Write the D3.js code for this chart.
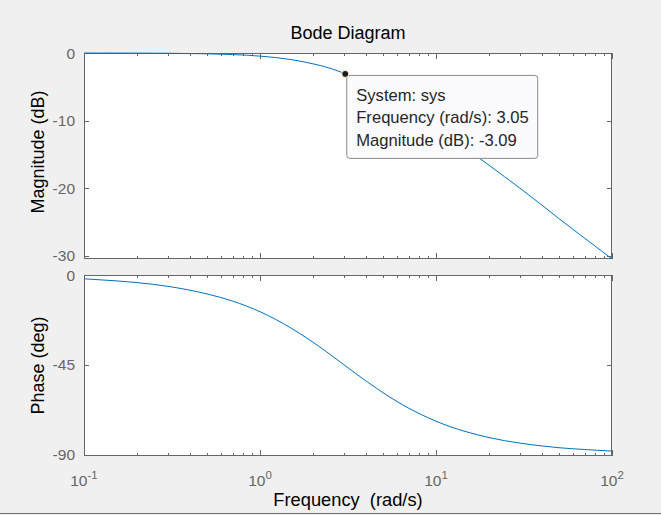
<!DOCTYPE html>
<html>
<head>
<meta charset="utf-8">
<script src="https://cdn.jsdelivr.net/npm/d3@7"></script>
<style>
  html, body { margin: 0; padding: 0; background: #F0F0F0; }
  svg { display: block; font-family: "Liberation Sans", Arial, sans-serif; }
</style>
</head>
<body>
<svg id="chart" width="661" height="515"></svg>
<script>
// ---- data ----
const freq = [0.1, 0.15, 0.2, 0.3, 0.5, 0.7, 1, 1.5, 2, 2.5, 3, 3.5, 4, 5, 6, 7, 8, 10, 12, 15, 20, 30, 40, 50, 70, 100];
const magDb = [-0.005, -0.011, -0.02, -0.04, -0.12, -0.23, -0.46, -0.97, -1.6, -2.25, -3.0, -3.7, -4.4, -5.8, -6.99, -8.3, -9.1, -10.9, -12.3, -14.2, -16.6, -20.0, -22.5, -24.5, -27.4, -30.46];
const phaseDeg = [-1.9, -2.9, -3.8, -5.7, -9.5, -13.1, -18.4, -26.6, -33.7, -39.8, -45.0, -49.4, -53.1, -59.0, -63.4, -66.8, -69.4, -73.3, -76.0, -78.7, -81.5, -84.3, -85.7, -86.6, -87.5, -88.3];
const xTicks = [0.1, 1, 10, 100];
const xTickExp = ["-1", "0", "1", "2"];
const magTicks = [0, -10, -20, -30];
const phaseTicks = [0, -45, -90];
const tipFreq = 3.05, tipMag = -3.09;
const tipLines = ["System: sys", "Frequency (rad/s): 3.05", "Magnitude (dB): -3.09"];

// ---- layout ----
const svg = d3.select("#chart");
const L = 84, R = 612;
const magTop = 53, magBot = 259, phTop = 275, phBot = 456;
const axisCol = "#666666", tickTxt = "#666666", lineCol = "#0072BD";

const x = d3.scaleLog().domain([0.1, 100]).range([L, R]);
const yMag = d3.scaleLinear().domain([-30.47, 0]).range([magBot, magTop]);
const yPh = d3.scaleLinear().domain([-90.75, 0]).range([phBot, phTop]);

// minor tick values
const minor = [];
[0.1, 1, 10].forEach(d => { for (let k = 2; k <= 9; k++) minor.push(d * k); });

function panel(y, top, bot, yTickVals, data, clipId) {
  const g = svg.append("g");
  g.append("rect").attr("x", L).attr("y", top).attr("width", R - L).attr("height", bot - top)
    .attr("fill", "#ffffff");
  g.append("clipPath").attr("id", clipId).append("rect")
    .attr("x", L - 1).attr("y", top - 1).attr("width", R - L + 2).attr("height", bot - top + 2);

  // ticks (inward, all four sides)
  const tk = g.append("g").attr("stroke", axisCol).attr("stroke-width", 1);
  xTicks.forEach(v => {
    const px = Math.round(x(v)) + 0.5;
    tk.append("line").attr("x1", px).attr("x2", px).attr("y1", bot).attr("y2", bot - 6);
    tk.append("line").attr("x1", px).attr("x2", px).attr("y1", top).attr("y2", top + 6);
  });
  minor.forEach(v => {
    const px = Math.round(x(v)) + 0.5;
    tk.append("line").attr("x1", px).attr("x2", px).attr("y1", bot).attr("y2", bot - 3);
    tk.append("line").attr("x1", px).attr("x2", px).attr("y1", top).attr("y2", top + 3);
  });
  yTickVals.forEach(v => {
    const py = Math.round(y(v)) + 0.5;
    tk.append("line").attr("x1", L).attr("x2", L + 5).attr("y1", py).attr("y2", py);
    tk.append("line").attr("x1", R).attr("x2", R - 5).attr("y1", py).attr("y2", py);
  });
  g.append("rect").attr("x", L + 0.5).attr("y", top + 0.5).attr("width", R - L - 1).attr("height", bot - top - 1)
    .attr("fill", "none").attr("stroke", axisCol).attr("stroke-width", 1);

  const line = d3.line().x((d, i) => x(freq[i])).y(d => y(d)).curve(d3.curveMonotoneX);
  g.append("path").datum(data).attr("d", line).attr("fill", "none")
    .attr("stroke", lineCol).attr("stroke-width", 1).attr("clip-path", `url(#${clipId})`);

  // y tick labels
  g.append("g").selectAll("text").data(yTickVals).join("text")
    .attr("x", 75).attr("y", d => y(d)).attr("dy", "0.36em")
    .attr("text-anchor", "end").attr("font-size", 15.5).attr("fill", tickTxt)
    .text(d => d === 0 ? "0" : "-" + Math.abs(d));
  return g;
}

panel(yMag, magTop, magBot, magTicks, magDb, "clipMag");
panel(yPh, phTop, phBot, phaseTicks, phaseDeg, "clipPh");

// x tick labels (bottom panel only)
const xl = svg.append("g");
xTicks.forEach((v, i) => {
  const t = xl.append("text").attr("x", x(v)).attr("y", 486).attr("text-anchor", "middle")
    .attr("fill", tickTxt).attr("font-size", 15.5);
  t.append("tspan").text("10");
  t.append("tspan").attr("font-size", 11.5).attr("dy", -7).text(xTickExp[i]);
});

// title and labels
svg.append("text").attr("x", (L + R) / 2).attr("y", 39).attr("text-anchor", "middle")
  .attr("font-size", 18).attr("fill", "#000").text("Bode Diagram");
svg.append("text").attr("x", (L + R) / 2).attr("y", 506).attr("text-anchor", "middle")
  .attr("font-size", 18.3).attr("fill", "#000").attr("xml:space", "preserve").text("Frequency  (rad/s)");
svg.append("text").attr("transform", `translate(44,${(magTop + magBot) / 2 - 4}) rotate(-90)`)
  .attr("text-anchor", "middle").attr("font-size", 18).attr("fill", "#000").text("Magnitude (dB)");
svg.append("text").attr("transform", `translate(44,${(phTop + phBot) / 2}) rotate(-90)`)
  .attr("text-anchor", "middle").attr("font-size", 18).attr("fill", "#000").text("Phase (deg)");

// data tip
const tx = x(tipFreq), ty = yMag(tipMag);
const tip = svg.append("g");
tip.append("rect").attr("x", tx + 1.5).attr("y", ty + 1.5).attr("width", 191).attr("height", 83)
  .attr("rx", 3).attr("fill", "#FAFAFF").attr("stroke", "#8a8a8a").attr("stroke-width", 1);
tipLines.forEach((s, i) => {
  tip.append("text").attr("x", tx + 11).attr("y", ty + 27 + i * 22.5)
    .attr("font-size", 16.6).attr("fill", "#262626").text(s);
});
tip.append("circle").attr("cx", tx).attr("cy", ty).attr("r", 3.5)
  .attr("fill", "#1a1a1a").attr("stroke", "#fff7c2").attr("stroke-width", 1);

// window bottom edge
svg.append("line").attr("x1", 0).attr("x2", 661).attr("y1", 513.5).attr("y2", 513.5)
  .attr("stroke", "#6e6e6e").attr("stroke-width", 1);
</script>
</body>
</html>
